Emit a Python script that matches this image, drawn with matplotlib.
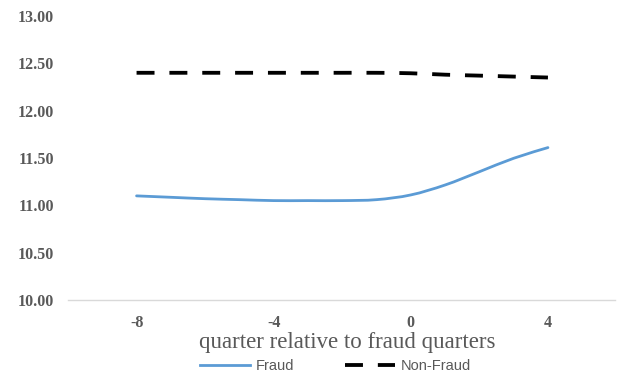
import matplotlib
matplotlib.use("Agg")
import matplotlib.pyplot as plt
from matplotlib.path import Path
from matplotlib.patches import PathPatch
from matplotlib.lines import Line2D

quarters = [-8, -7, -6, -5, -4, -3, -2, -1, 0, 1, 2, 3, 4]
fraud = [11.10, 11.085, 11.07, 11.06, 11.05, 11.05, 11.05, 11.06, 11.11, 11.215, 11.355, 11.497, 11.61]
non_fraud = [12.40, 12.40, 12.40, 12.40, 12.40, 12.40, 12.40, 12.40, 12.395, 12.38, 12.37, 12.36, 12.35]
x_ticks = [-8, -4, 0, 4]
y_ticks = [10.0, 10.5, 11.0, 11.5, 12.0, 12.5, 13.0]

FRAUD_COLOR = "#5b9bd5"
TEXT_COLOR = "#595959"
DASH = (0, (4.7, 3.9))


def smooth_path(xs, ys, k=1 / 6):
    """Catmull-Rom style cubic Bezier path through the given points."""
    pts = list(zip(xs, ys))
    verts = [pts[0]]
    codes = [Path.MOVETO]
    n = len(pts)
    for i in range(n - 1):
        p0 = pts[i - 1] if i > 0 else pts[i]
        p1 = pts[i]
        p2 = pts[i + 1]
        p3 = pts[i + 2] if i + 2 < n else pts[i + 1]
        c1 = (p1[0] + (p2[0] - p0[0]) * k, p1[1] + (p2[1] - p0[1]) * k)
        c2 = (p2[0] - (p3[0] - p1[0]) * k, p2[1] - (p3[1] - p1[1]) * k)
        verts += [c1, c2, p2]
        codes += [Path.CURVE4] * 3
    return Path(verts, codes)


fig = plt.figure(figsize=(6.21, 3.77), dpi=100)
ax = fig.add_axes([0.1095, 0.2042, 0.8805, 0.7534])

ax.add_patch(PathPatch(smooth_path(quarters, fraud), fill=False,
                       edgecolor=FRAUD_COLOR, lw=2.0, capstyle="round"))
ax.add_patch(PathPatch(smooth_path(quarters, non_fraud), fill=False,
                       edgecolor="black", lw=2.75, linestyle=DASH))

ax.set_xlim(-10.0, 5.95)
ax.set_ylim(10.0, 13.0)
ax.set_xticks(x_ticks)
ax.set_xticklabels([str(v) for v in x_ticks])
ax.set_yticks(y_ticks)
ax.set_yticklabels([f"{v:.2f}" for v in y_ticks])

for s in ["top", "right", "left"]:
    ax.spines[s].set_visible(False)
ax.spines["bottom"].set_color("#d9d9d9")
ax.spines["bottom"].set_linewidth(1.0)
ax.tick_params(axis="both", length=0, colors=TEXT_COLOR)
ax.tick_params(axis="y", pad=10)
ax.tick_params(axis="x", pad=11)
for lab in ax.get_xticklabels() + ax.get_yticklabels():
    lab.set_fontfamily("Liberation Serif")
    lab.set_fontweight("bold")
    lab.set_fontsize(11.5)

fig.text(0.5596, 1 - 348 / 377, "quarter relative to fraud quarters",
         family="Liberation Serif", fontsize=16.5, color=TEXT_COLOR,
         ha="center", va="baseline")

handles = [
    Line2D([], [], color=FRAUD_COLOR, lw=2.0),
    Line2D([], [], color="black", lw=2.75, linestyle=DASH),
]
leg = fig.legend(handles, ["Fraud", "Non-Fraud"], loc="center",
                 bbox_to_anchor=(0.54, 1 - 366 / 377), ncol=2, frameon=False,
                 prop={"family": "Liberation Sans", "size": 10.5}, handlelength=3.4,
                 columnspacing=3.5, handletextpad=0.4)
for t in leg.get_texts():
    t.set_color(TEXT_COLOR)

fig.savefig("out.png", dpi=100)
